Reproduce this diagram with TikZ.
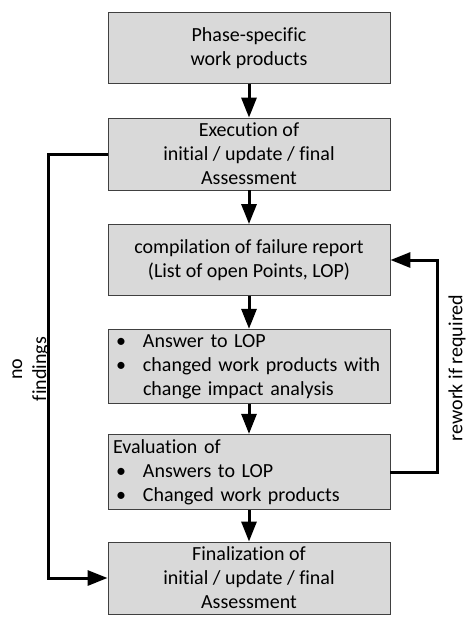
\documentclass[tikz,border=0pt]{standalone}
\usepackage{fontspec}
\setmainfont[Ligatures=NoCommon]{Carlito}
\usetikzlibrary{arrows.meta}
\newcommand{\bul}{\makebox[30pt][l]{\hspace{3pt}\textbullet}}
\begin{document}
\begin{tikzpicture}[x=1pt,y=-1pt,
  box/.style={draw=black!75,line width=0.9pt,fill=black!15,minimum width=282pt,minimum height=71pt,inner sep=5pt,font=\fontsize{20}{24}\selectfont},
  lbox/.style={box,text width=272pt,align=left},
  cbox/.style={box,align=center},
  flow/.style={line width=3pt,-{Triangle[length=20pt,width=15pt]}},
  lab/.style={font=\fontsize{20}{24}\selectfont,align=center,rotate=90}]
\useasboundingbox (0,0) rectangle (473,633);
\node[cbox] (b1) at (249,48) {Phase-specific\\work products};
\node[cbox] (b2) at (249,154) {Execution of\\initial / update / final\\Assessment};
\node[cbox] (b3) at (249,260) {compilation of failure report\\(List of open Points, LOP)};
\node[lbox] (b4) at (249,366.5) {\bul Answer to LOP\\\bul changed work products with\\\hspace*{30pt}change impact analysis};
\node[lbox] (b5) at (249,472) {Evaluation of\\\bul Answers to LOP\\\bul Changed work products};
\node[cbox] (b6) at (249,578) {Finalization of\\initial / update / final\\Assessment};
\draw[flow] (b1) -- (b2);
\draw[flow] (b2) -- (b3);
\draw[flow] (b3) -- (b4);
\draw[flow] (b4) -- (b5);
\draw[flow] (b5) -- (b6);
\coordinate (lc) at (48,154);
\coordinate (rc) at (437,472);
\draw[flow] (b2.west) -- (lc) |- (b6.west);
\draw[flow] (b5.east) -- (rc) |- (b3.east);
\node[lab] (nf) at (31,369) {no\\findings};
\node[lab] (rw) at (457,368) {rework if required};
\end{tikzpicture}
\end{document}
